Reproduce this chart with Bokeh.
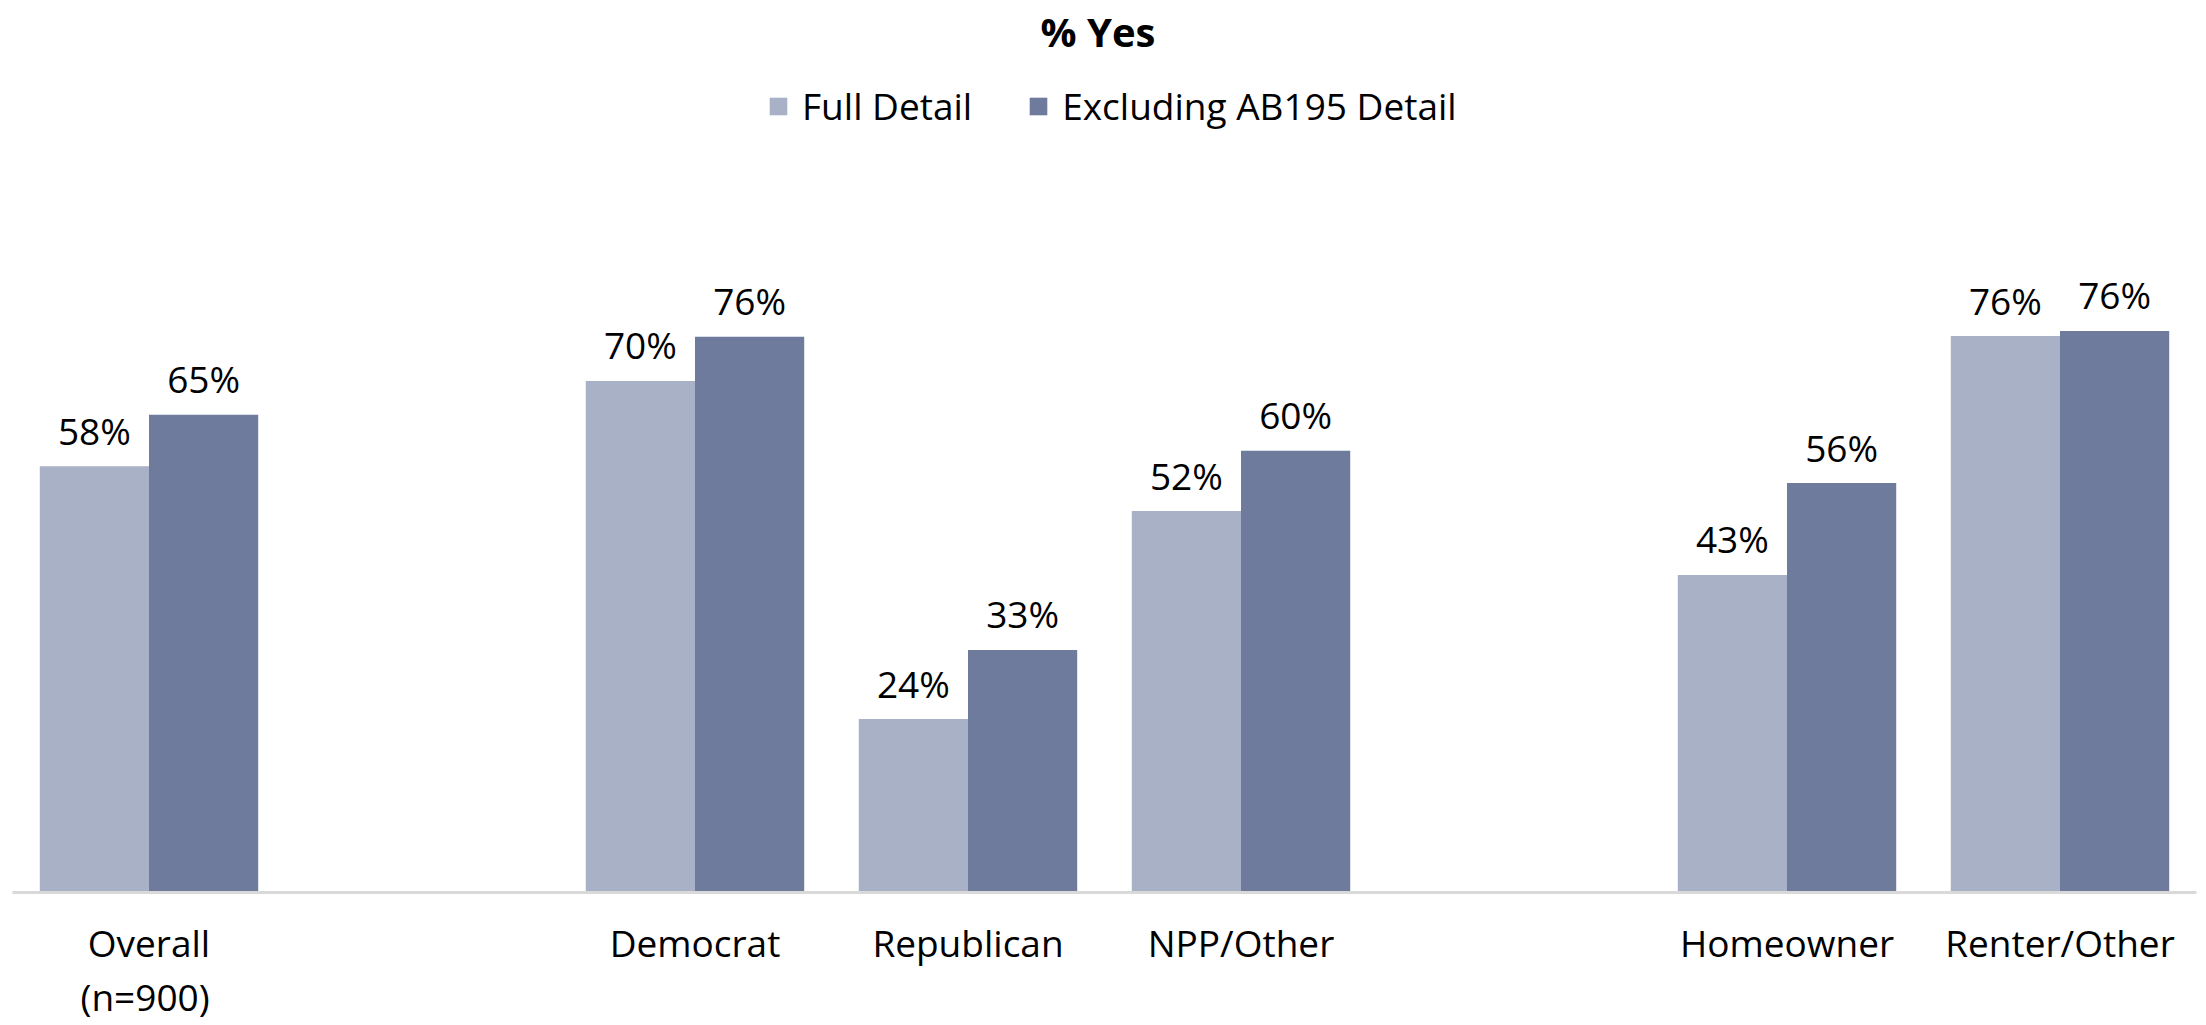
from bokeh.plotting import figure
from bokeh.models import ColumnDataSource, FactorRange, Range1d, Legend, LegendItem, Title
from bokeh.transform import dodge
from bokeh.embed import file_html
from bokeh.resources import INLINE
from bokeh.core.properties import value

# ---- data ----
categories = ["Overall", " ", "Democrat", "Republican", "NPP/Other", "  ", "Homeowner", "Renter/Other"]
bar_categories = ["Overall", "Democrat", "Republican", "NPP/Other", "Homeowner", "Renter/Other"]
overall_note = "(n=900)"
full_detail = [58.0, 69.6, 23.6, 51.9, 43.2, 75.7]
excl_ab195 = [65.0, 75.6, 33.0, 60.1, 55.7, 76.4]
series_names = ["Full Detail", "Excluding AB195 Detail"]

LIGHT = "#A9B1C6"
DARK = "#6E7B9D"
FONT = "Open Sans"

src = ColumnDataSource(dict(
    cat=bar_categories,
    full=full_detail,
    excl=excl_ab195,
    full_lbl=[f"{v:.0f}%" for v in full_detail],
    excl_lbl=[f"{v:.0f}%" for v in excl_ab195],
))

p = figure(
    x_range=FactorRange(*categories, range_padding=0),
    y_range=Range1d(0, 113.2),
    width=2206, height=1025,
    output_backend="svg", toolbar_location=None,
    min_border_left=12, min_border_right=10, min_border_top=60, min_border_bottom=133,
)

r_full = p.vbar(x=dodge("cat", -0.2, range=p.x_range), top="full", width=0.4, source=src,
                fill_color=LIGHT, line_color=None)
r_excl = p.vbar(x=dodge("cat", 0.2, range=p.x_range), top="excl", width=0.4, source=src,
                fill_color=DARK, line_color=None)

for col, lbl, off in (("full", "full_lbl", -0.2), ("excl", "excl_lbl", 0.2)):
    p.text(x=dodge("cat", off, range=p.x_range), y=col, text=lbl, source=src,
           text_font=value(FONT), text_font_size="37px", text_color="#000000",
           text_align="center", text_baseline="alphabetic", y_offset=-36)

# title
p.title.text = "% Yes"
p.title.align = "left"
p.title.offset = 1028
p.title.vertical_align = "top"
p.title.text_font = FONT
p.title.text_font_size = "40px"
p.title.text_font_style = "bold"
p.title.text_color = "#000000"
p.title.text_line_height = 0.9
p.title.standoff = 0

# legend
legend = Legend(items=[LegendItem(label=series_names[0], renderers=[r_full]),
                       LegendItem(label=series_names[1], renderers=[r_excl])],
                orientation="horizontal", location=(755, 761),
                label_text_font=FONT, label_text_font_size="37px", label_text_color="#000000",
                glyph_width=22, glyph_height=22, label_standoff=13, spacing=55,
                padding=0, margin=0, border_line_color=None, background_fill_alpha=0)
p.add_layout(legend)

# axes / grid
p.yaxis.visible = False
p.xgrid.grid_line_color = None
p.ygrid.grid_line_color = None
p.outline_line_color = None
p.xaxis.axis_line_color = "#D9D9D9"
p.xaxis.axis_line_width = 3
p.xaxis.major_tick_line_color = None
p.xaxis.minor_tick_line_color = None
p.xaxis.major_tick_out = 0
p.xaxis.major_label_standoff = 24
p.xaxis.major_label_text_font = FONT
p.xaxis.major_label_text_font_size = "37px"
p.xaxis.major_label_text_color = "#000000"
p.xaxis.major_label_orientation = "horizontal"

# second line of the "Overall" category label, set under the axis labels
p.add_layout(Title(text=overall_note, align="left", offset=68, vertical_align="top", standoff=0,
                   text_font=FONT, text_font_size="37px", text_font_style="normal",
                   text_line_height=0.9, text_color="#000000"), "below")

open("out.html", "w").write(file_html(p, INLINE))
